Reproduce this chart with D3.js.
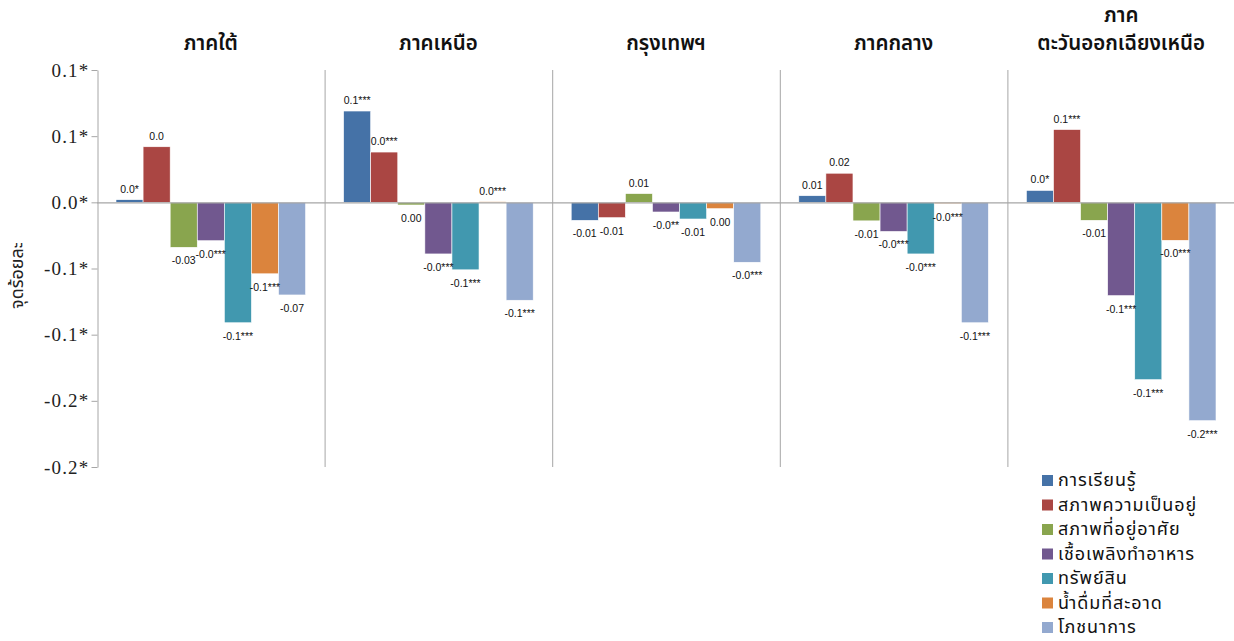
<!DOCTYPE html>
<html><head><meta charset="utf-8">
<script src="https://cdn.jsdelivr.net/npm/d3@7"></script>
<style>
body{margin:0;background:#fff;}
svg{display:block;}
</style></head>
<body>
<svg id="chart" width="1234" height="641"></svg>
<script>
const regions = ["ภาคใต้","ภาคเหนือ","กรุงเทพฯ","ภาคกลาง","ภาค\nตะวันออกเฉียงเหนือ"];
const series = ["การเรียนรู้","สภาพความเป็นอยู่","สภาพที่อยู่อาศัย","เชื้อเพลิงทำอาหาร","ทรัพย์สิน","น้ำดื่มที่สะอาด","โภชนาการ"];
const colors = ["#4572A7","#AA4643","#89A54E","#71588F","#4198AF","#DB843D","#93A9CF"];
const valSouth   = [0.002, 0.042, -0.034, -0.029, -0.091, -0.054, -0.070];
const valNorth   = [0.069, 0.038, -0.002, -0.039, -0.051, 0.0005, -0.074];
const valBangkok = [-0.0136, -0.0116, 0.0066, -0.0073, -0.0126, -0.0048, -0.0453];
const valCentral = [0.005, 0.022, -0.014, -0.022, -0.039, -0.001, -0.091];
const valNE      = [0.009, 0.055, -0.0136, -0.0705, -0.134, -0.0287, -0.165];
const lblSouth   = ["0.0*","0.0","-0.03","-0.0***","-0.1***","-0.1***","-0.07"];
const lblNorth   = ["0.1***","0.0***","0.00","-0.0***","-0.1***","0.0***","-0.1***"];
const lblBangkok = ["-0.01","-0.01","0.01","-0.0**","-0.01","0.00","-0.0***"];
const lblCentral = ["0.01","0.02","-0.01","-0.0***","-0.0***","-0.0***","-0.1***"];
const lblNE      = ["0.0*","0.1***","-0.01","-0.1***","-0.1***","-0.0***","-0.2***"];
const tickValues = [0.1, 0.05, 0, -0.05, -0.1, -0.15, -0.2];
const tickLabels = ["0.1*","0.1*","0.0*","-0.1*","-0.1*","-0.2*","-0.2*"];
const yTitle = "จุดร้อยละ";

const values = [valSouth, valNorth, valBangkok, valCentral, valNE];
const labels = [lblSouth, lblNorth, lblBangkok, lblCentral, lblNE];

const svg = d3.select("#chart");
const thaiFont = "'Noto Sans Thai','Noto Sans','DejaVu Sans',sans-serif";
const pLeft = 97, pRight = 1235, pTop = 70, pBottom = 467;

const y = d3.scaleLinear().domain([-0.2, 0.1]).range([pBottom, pTop]);
const xPanel = d3.scaleBand().domain(regions).range([pLeft, pRight]).padding(0);
const pw = xPanel.bandwidth();
const xBar = d3.scaleBand().domain(series).range([19, pw - 19]).padding(0);

// panel dividers
svg.append("g").selectAll("line").data(regions.slice(1)).join("line")
  .attr("x1", d => xPanel(d)+0.5).attr("x2", d => xPanel(d)+0.5)
  .attr("y1", pTop).attr("y2", pBottom)
  .attr("stroke", "#a6a6a6").attr("stroke-width", 1);

// y axis
const yAxis = d3.axisLeft(y).tickValues(tickValues)
  .tickFormat((d, i) => tickLabels[i]).tickSize(6).tickSizeOuter(0);
const ga = svg.append("g").attr("transform", `translate(${pLeft+0.5},0)`).call(yAxis);
ga.select(".domain").attr("stroke", "#a6a6a6");
ga.selectAll(".tick line").attr("stroke", "#a6a6a6");
ga.selectAll(".tick text").attr("font-family", "'Liberation Serif','Times New Roman',serif")
  .attr("font-size", 19).attr("letter-spacing", "1.2px").attr("fill", "#222").attr("x", -8).attr("dy", "0.32em");

// y title
svg.append("text").attr("transform", `translate(23,${(pTop+pBottom)/2+7}) rotate(-90)`)
  .attr("text-anchor", "middle").attr("font-family", thaiFont).attr("font-size", 18)
  .attr("fill", "#222").text(yTitle);

// panels
regions.forEach((r, pi) => {
  const g = svg.append("g").attr("transform", `translate(${xPanel(r)},0)`);
  const data = series.map((s, i) => ({s, v: values[pi][i], l: labels[pi][i], c: colors[i]}));
  g.selectAll("rect").data(data).join("rect")
    .attr("x", d => xBar(d.s)).attr("width", xBar.bandwidth())
    .attr("y", d => y(Math.max(0, d.v))).attr("height", d => Math.max(1, Math.abs(y(d.v) - y(0))))
    .attr("fill", d => d.c).attr("stroke", "#ffffff").attr("stroke-width", 0.6);
  g.selectAll("text.lbl").data(data).join("text").attr("class", "lbl")
    .attr("x", d => xBar(d.s) + xBar.bandwidth()/2)
    .attr("y", d => d.v >= 0 ? y(d.v) - 7 : y(d.v) + 17)
    .attr("text-anchor", "middle").attr("font-family", "'Liberation Sans',Arial,sans-serif")
    .attr("font-size", 10.5).attr("fill", "#111").text(d => d.l);
  // header (one text element per line)
  const lines = r.split("\n");
  g.selectAll("text.hdr").data(lines).join("text").attr("class", "hdr")
    .attr("x", pw/2).attr("y", (d, li) => 50 - (lines.length - 1 - li) * 28)
    .attr("text-anchor", "middle").attr("font-family", thaiFont)
    .attr("font-size", 20.5).attr("font-weight", 600).attr("fill", "#111").text(d => d);
});

// zero line
svg.append("line").attr("x1", pLeft).attr("x2", 1234).attr("y1", y(0)+0.5).attr("y2", y(0)+0.5)
  .attr("stroke", "#a6a6a6").attr("stroke-width", 1.2);

// legend
const lg = svg.append("g").attr("transform", "translate(1042,480)");
const items = lg.selectAll("g").data(series).join("g")
  .attr("transform", (d, i) => `translate(0,${i*24.5})`);
items.append("rect").attr("x", 0).attr("y", -5).attr("width", 11).attr("height", 11)
  .attr("fill", (d, i) => colors[i]);
items.append("text").attr("x", 16).attr("y", 0).attr("dy", "0.35em")
  .attr("font-family", thaiFont).attr("font-size", 18).attr("letter-spacing", "0.9px")
  .attr("fill", "#111").text(d => d);
</script>
</body></html>
